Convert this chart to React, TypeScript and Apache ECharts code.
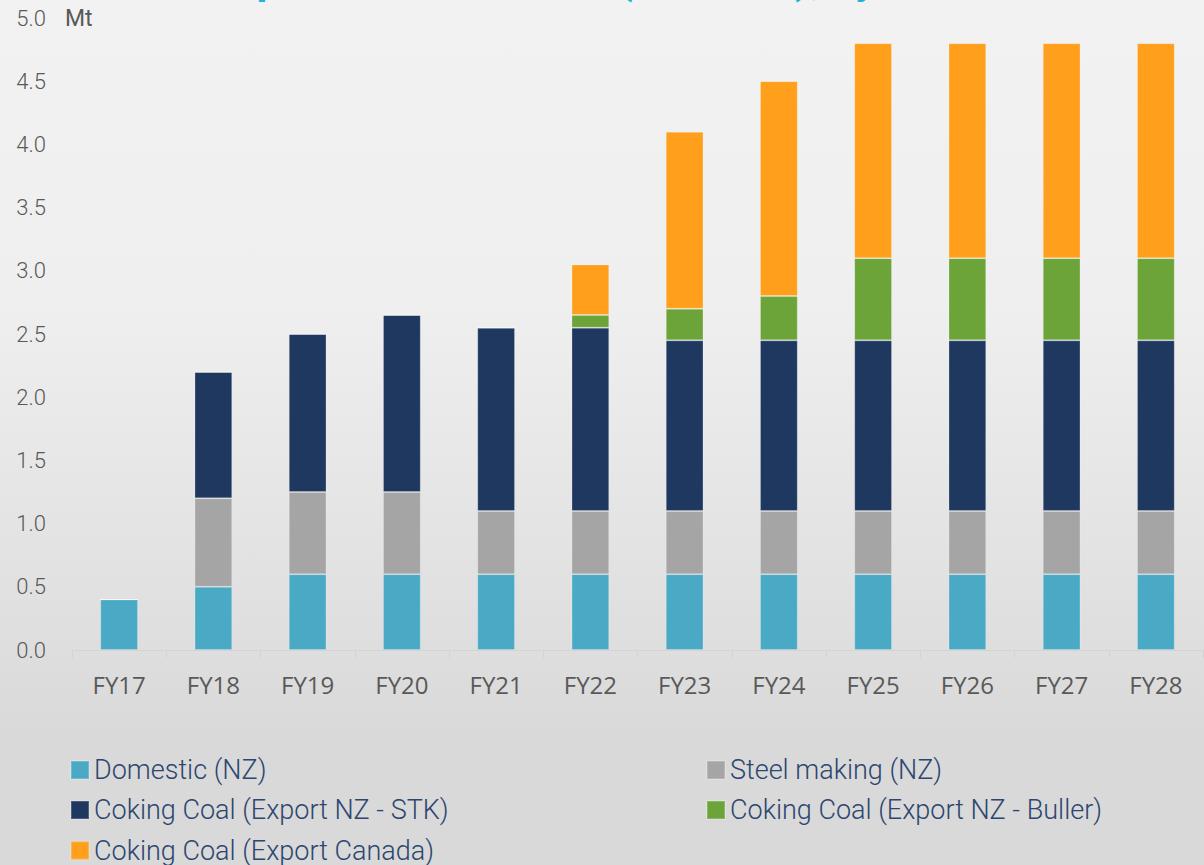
import React, { useEffect, useRef } from "react";
import * as echarts from "echarts";

const categories = ["FY17", "FY18", "FY19", "FY20", "FY21", "FY22", "FY23", "FY24", "FY25", "FY26", "FY27", "FY28"];
const domesticNZ = [0.4, 0.5, 0.6, 0.6, 0.6, 0.6, 0.6, 0.6, 0.6, 0.6, 0.6, 0.6];
const steelMakingNZ = [0, 0.7, 0.65, 0.65, 0.5, 0.5, 0.5, 0.5, 0.5, 0.5, 0.5, 0.5];
const cokingSTK = [0, 1.0, 1.25, 1.4, 1.45, 1.45, 1.35, 1.35, 1.35, 1.35, 1.35, 1.35];
const cokingBuller = [0, 0, 0, 0, 0, 0.1, 0.25, 0.35, 0.65, 0.65, 0.65, 0.65];
const cokingCanada = [0, 0, 0, 0, 0, 0.4, 1.4, 1.7, 1.7, 1.7, 1.7, 1.7];
const yTicks = { min: 0, max: 5, interval: 0.5 };

const seriesDefs = [
  { name: "Domestic (NZ)", data: domesticNZ, color: "#4aaac6" },
  { name: "Steel making (NZ)", data: steelMakingNZ, color: "#a5a5a5" },
  { name: "Coking Coal (Export NZ - STK)", data: cokingSTK, color: "#1e3860" },
  { name: "Coking Coal (Export NZ - Buller)", data: cokingBuller, color: "#6ca43a" },
  { name: "Coking Coal (Export Canada)", data: cokingCanada, color: "#ff9f1c" },
];

// legend slots: [series index, left, row]
const legendSlots = [
  [0, 70, 0],
  [1, 706, 0],
  [2, 70, 1],
  [3, 706, 1],
  [4, 70, 2],
];
const legendRowTops = [756.5, 796.5, 837];

export default function App() {
  const ref = useRef<HTMLDivElement>(null);
  useEffect(() => {
    if (!ref.current) return;
    const chart = echarts.init(ref.current, undefined, { renderer: "svg" });
    const legendText = {
      color: "#2c4670",
      fontSize: 27,
      fontFamily: "Roboto",
      fontWeight: 300,
      lineHeight: 27,
    };
    chart.setOption({
      animation: false,
      backgroundColor: new echarts.graphic.LinearGradient(0, 0, 0, 1, [
        { offset: 0, color: "#f2f2f2" },
        { offset: 0.35, color: "#efefef" },
        { offset: 0.75, color: "#dedede" },
        { offset: 0.85, color: "#d9d9d9" },
        { offset: 1, color: "#d9d9d9" },
      ]),
      grid: { left: 72, right: 1, top: 18, bottom: 215, containLabel: false },
      graphic: [
        {
          type: "text",
          x: 640,
          y: -22,
          style: {
            text: "production tonnes (saleable), by market",
            fill: "#1fb3d8",
            fontSize: 43,
            fontWeight: "bold",
            fontFamily: "Roboto",
            align: "center",
            verticalAlign: "middle",
          },
        },
        {
          type: "text",
          x: 65,
          y: 18,
          style: {
            text: "Mt",
            fill: "#595959",
            fontSize: 23,
            fontFamily: "Roboto",
            align: "left",
            verticalAlign: "middle",
          },
        },
      ],
      legend: legendSlots.map(([si, left, row]) => ({
        left,
        top: legendRowTops[row],
        orient: "vertical",
        padding: 0,
        itemWidth: 18,
        itemHeight: 18,
        icon: "rect",
        textStyle: legendText,
        data: [seriesDefs[si].name],
      })),
      xAxis: {
        type: "category",
        data: categories,
        axisLine: { lineStyle: { color: "#d4d4d4", width: 1 } },
        axisTick: { show: true, length: 8, lineStyle: { color: "#d4d4d4" } },
        axisLabel: {
          color: "#595959",
          fontSize: 24,
          fontFamily: "Open Sans",
          margin: 22,
        },
      },
      yAxis: {
        type: "value",
        min: yTicks.min,
        max: yTicks.max,
        interval: yTicks.interval,
        splitLine: { show: false },
        axisLine: { show: false },
        axisTick: { show: false },
        axisLabel: {
          color: "#595959",
          fontSize: 22,
          fontFamily: "Roboto",
          fontWeight: 300,
          margin: 26,
          formatter: (v: number) => v.toFixed(1),
        },
      },
      series: seriesDefs.map((s) => ({
        name: s.name,
        type: "bar",
        stack: "total",
        barWidth: "40%",
        data: s.data,
        itemStyle: {
          color: s.color,
          borderColor: "rgba(255,255,255,0.2)",
          borderWidth: 1,
        },
      })),
    });
    return () => chart.dispose();
  }, []);
  return (
    <div
      ref={ref}
      style={{ position: "absolute", left: 0, top: 0, width: 1204, height: 865 }}
    />
  );
}
